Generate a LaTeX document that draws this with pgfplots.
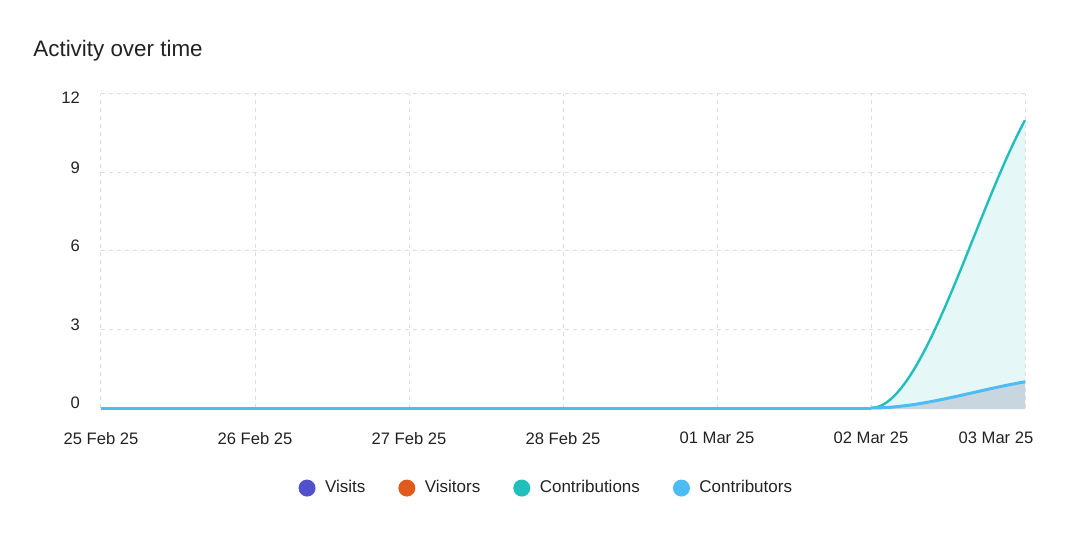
\documentclass[border=0pt]{standalone}
\usepackage{pgfplots}
\pgfplotsset{compat=1.18}
\usepackage{pgfplotstable}
\usepackage{fontspec}
\setmainfont{Liberation Sans}

\definecolor{visits}{RGB}{83,80,205}
\definecolor{visitors}{RGB}{224,90,30}
\definecolor{contrib}{RGB}{33,191,187}
\definecolor{contribtors}{RGB}{77,188,245}
\definecolor{gridgray}{RGB}{221,221,221}
\definecolor{fillA}{RGB}{230,247,247}
\definecolor{fillB}{RGB}{200,214,224}
\definecolor{txt}{RGB}{34,34,34}

% daily activity, 25 Feb 25 .. 03 Mar 25
\pgfplotstableread{
day visits visitors contributions contributors
0 0 0 0 0
1 0 0 0 0
2 0 0 0 0
3 0 0 0 0
4 0 0 0 0
5 0 0 0 0
6 0 0 11 1
}\activity

% last segment is drawn as a monotone cubic (flat start, straight end)
\pgfplotstablegetelem{5}{contributions}\of\activity \let\cA\pgfplotsretval
\pgfplotstablegetelem{6}{contributions}\of\activity \let\cB\pgfplotsretval
\pgfplotstablegetelem{5}{contributors}\of\activity \let\pA\pgfplotsretval
\pgfplotstablegetelem{6}{contributors}\of\activity \let\pB\pgfplotsretval
\pgfmathsetmacro\cC{\cB-(\cB-\cA)/3}
\pgfmathsetmacro\pC{\pB-(\pB-\pA)/3}

\begin{document}
\begin{tikzpicture}
\useasboundingbox (-50.5pt,-68.5pt) rectangle (489.5pt,204pt);
\node[anchor=base west, inner sep=0, text=txt, font=\fontsize{11.2}{13}\selectfont]
  at (-34pt,175.5pt) {Activity over time};
\begin{axis}[
  scale only axis, width=462pt, height=157pt,
  xmin=0, xmax=6, ymin=0, ymax=12,
  clip=false,
  axis line style={draw=none}, major tick length=0pt,
  xtick={0,...,5},
  xticklabels={25 Feb 25, 26 Feb 25, 27 Feb 25, 28 Feb 25, 01 Mar 25, 02 Mar 25},
  extra x ticks={6}, extra x tick labels={03 Mar 25},
  extra x tick style={grid=major, tick label style={xshift=-14.5pt}},
  ytick={0,3,6,9},
  extra y ticks={12},
  extra y tick style={grid=major, tick label style={yshift=-4.5pt}},
  grid=major,
  grid style={gridgray, dash pattern=on 2pt off 2pt, line width=0.5pt},
  tick label style={font=\fontsize{8.3}{10}\selectfont, text=txt},
  /pgf/number format/assume math mode=true,
  xticklabel style={yshift=-8.5pt},
  yticklabel style={xshift=-7pt, yshift=2.5pt},
  legend columns=4,
  legend style={at={(axis description cs:0.483,-0.255)}, anchor=center,
    draw=none, fill=none, font=\fontsize{8.5}{10}\selectfont, text=txt,
    /tikz/every even column/.append style={column sep=14.5pt}},
  legend image code/.code={\fill[draw=none] (0pt,0pt) circle (4.25pt);
    \path[draw=none] (0pt,0pt) -- (7pt,0pt);},
]
\addplot[color=visits, line width=0.8pt] table[x=day, y=visits] {\activity};
\addlegendentry{Visits}
\addplot[color=visitors, line width=0.8pt] table[x=day, y=visitors] {\activity};
\addlegendentry{Visitors}

\fill[fillA] (axis cs:5,\cA) .. controls (axis cs:5.3333,\cA) and (axis cs:5.6667,\cC)
  .. (axis cs:6,\cB) -- (axis cs:6,-0.04) -- (axis cs:5,-0.04) -- cycle;
\fill[fillB] (axis cs:5,\pA) .. controls (axis cs:5.3333,\pA) and (axis cs:5.6667,\pC)
  .. (axis cs:6,\pB) -- (axis cs:6,-0.04) -- (axis cs:5,-0.04) -- cycle;

\addplot[color=contrib, line width=1.2pt] table[x=day, y=contributions,
  skip coords between index={6}{7}] {\activity};
\addlegendentry{Contributions}
\draw[contrib, line width=1.2pt] (axis cs:5,\cA) .. controls (axis cs:5.3333,\cA)
  and (axis cs:5.6667,\cC) .. (axis cs:6,\cB);

\addplot[color=contribtors, line width=1.5pt] table[x=day, y=contributors,
  skip coords between index={6}{7}] {\activity};
\addlegendentry{Contributors}
\draw[contribtors, line width=1.5pt] (axis cs:5,\pA) .. controls (axis cs:5.3333,\pA)
  and (axis cs:5.6667,\pC) .. (axis cs:6,\pB);
\end{axis}
\end{tikzpicture}
\end{document}
